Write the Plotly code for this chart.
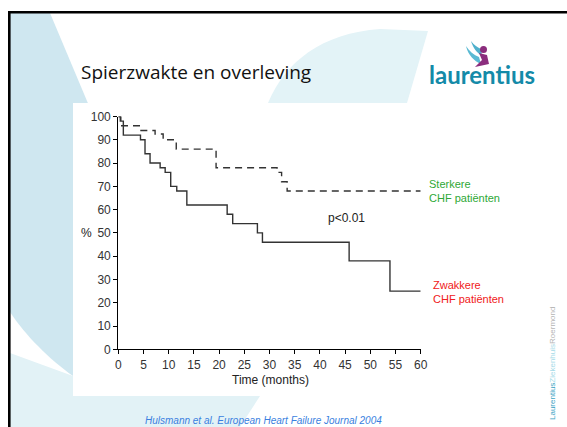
import plotly.graph_objects as go

W, H = 567, 427

# Kaplan-Meier style survival curves (months, % surviving)
months_strong = [0, 0.5, 4.5, 7.3, 8.9, 11.5, 19.4, 31.5, 32.4, 33.5, 60]
surv_strong = [100, 96, 94, 92.5, 90, 86, 78, 76, 72, 68, 68]

months_weak = [0, 0.4, 1.0, 4.4, 5.3, 6.3, 8.3, 9.3, 10.4, 11.6, 13.6, 21.6, 22.7, 27.6, 28.6, 45.8, 53.9, 60]
surv_weak = [100, 98, 92, 90, 84, 80, 78, 76, 70, 68, 62, 58, 54, 50, 46, 38, 25, 25]

x_ticks = list(range(0, 61, 5))
y_ticks = list(range(0, 101, 10))

label_strong = "Sterkere<br>CHF patiënten"
label_weak = "Zwakkere<br>CHF patiënten"
p_value_text = "p<0.01"
p_value_pos = (45.2, 56.5)

slide_title = "Spierzwakte en overleving"
logo_text = "laurentius"
citation = "Hulsmann et al. European Heart Failure Journal 2004"

FONT = "Liberation Sans, Arial, sans-serif"


def px(x):
    return x / W


def py(y):
    return 1 - y / H


def path(points):
    """Build a closed SVG path in paper units from pixel points (tuples of 3 points = cubic)."""
    parts = []
    for i, p in enumerate(points):
        if isinstance(p[0], tuple):
            (c1x, c1y), (c2x, c2y), (ex, ey) = p
            parts.append(f"C {px(c1x):.5f},{py(c1y):.5f} {px(c2x):.5f},{py(c2y):.5f} {px(ex):.5f},{py(ey):.5f}")
        else:
            cmd = "M" if i == 0 else "L"
            parts.append(f"{cmd} {px(p[0]):.5f},{py(p[1]):.5f}")
    return " ".join(parts) + " Z"


shapes = []
DARK = "#cfe7f0"
LIGHT = "#e2f2f6"

# left slide swoosh
shapes.append(dict(type="path", xref="paper", yref="paper", layer="below", line_width=0,
                   fillcolor=DARK,
                   path=path([(10, 13), (50, 13), (95, 120), (100, 380), (73, 376),
                              ((50, 360), (25, 335), (10, 312))])))
# lower light band
shapes.append(dict(type="path", xref="paper", yref="paper", layer="below", line_width=0,
                   fillcolor=LIGHT,
                   path=path([(10, 353), (73, 376), (100, 396), (260, 396), (240, 427), (10, 427)])))
# big light arc at the top
shapes.append(dict(type="path", xref="paper", yref="paper", layer="below", line_width=0,
                   fillcolor="#e3f3f7",
                   path=path([(268, 103), ((285, 62), (322, 33), (380, 29)), (428, 31), (407, 103)])))
# white panel behind the chart
shapes.append(dict(type="rect", xref="paper", yref="paper", layer="below", line_width=0,
                   fillcolor="white", x0=px(73), x1=px(440), y0=py(396), y1=py(103)))
# slide frame lines
shapes.append(dict(type="line", xref="paper", yref="paper", x0=px(8), x1=px(567), y0=py(12.2), y1=py(12.2),
                   line=dict(color="black", width=2.6)))
shapes.append(dict(type="line", xref="paper", yref="paper", x0=px(9.3), x1=px(9.3), y0=py(11), y1=py(427),
                   line=dict(color="black", width=2.6)))
# logo emblem: wing and figure
shapes.append(dict(type="path", xref="paper", yref="paper", line_width=0, fillcolor="#5bbad3",
                   path=path([(466, 46), ((468, 55), (474, 61), (481, 64)), (479, 57), ((474, 55), (469, 51), (466, 46))])))
shapes.append(dict(type="path", xref="paper", yref="paper", line_width=0, fillcolor="#4fb0cc",
                   path=path([(471, 41), ((473, 48), (477, 53), (482, 56)), (481, 49), ((477, 47), (474, 45), (471, 41))])))
shapes.append(dict(type="path", xref="paper", yref="paper", line_width=0, fillcolor="#8b2d7d",
                   path=path([(479, 53), (487, 55), (489, 64), (475, 67), (482, 60)])))
shapes.append(dict(type="circle", xref="paper", yref="paper", line_width=0, fillcolor="#8b2d7d",
                   x0=px(480), x1=px(487), y0=py(53), y1=py(46)))

fig = go.Figure()
fig.add_trace(go.Scatter(x=months_strong, y=surv_strong, mode="lines", cliponaxis=False,
                         line=dict(shape="hv", color="#333333", width=1.4, dash="7px,5px"),
                         showlegend=False, hoverinfo="skip"))
fig.add_trace(go.Scatter(x=months_weak, y=surv_weak, mode="lines", cliponaxis=False,
                         line=dict(shape="hv", color="#333333", width=1.4),
                         showlegend=False, hoverinfo="skip"))


def note(text, x, y, size, color, family=FONT, xanchor="center", **kw):
    return dict(text=text, x=px(x), y=py(y), xref="paper", yref="paper", showarrow=False,
                xanchor=xanchor, yanchor="middle", align="left",
                font=dict(family=family, size=size, color=color), **kw)


annotations = [
    dict(text=p_value_text, x=p_value_pos[0], y=p_value_pos[1], xref="x", yref="y", showarrow=False,
         xanchor="center", yanchor="middle", font=dict(family=FONT, size=12, color="#222")),
    note("Time (months)", 270, 380, 12, "#222"),
    note("%", 86, 233, 12, "#222"),
    note(label_strong, 427, 191, 11, "#2ea836", xanchor="left"),
    note(label_weak, 431, 291.5, 11, "#f02020", xanchor="left"),
    note(slide_title, 79, 72, 19, "#111", family="Open Sans, sans-serif", xanchor="left"),
    note(f"<b>{logo_text}</b>", 427, 75, 24, "#148aa8", family="Lato, sans-serif", xanchor="left"),
    note(f"<i>{citation}</i>", 143, 420.5, 10, "#3a7fe0", xanchor="left"),
    note('<span style="color:#3aa3c3">Laurentius</span><span style="color:#a6dbe8">Ziekenhuis</span>'
         '<span style="color:#b5b5b5">Roermond</span>', 552, 364, 8, "#b5b5b5", textangle=-90),
]

axis_common = dict(showgrid=False, zeroline=False, showline=True, linecolor="black", linewidth=1.3,
                   ticks="outside", ticklen=4, tickwidth=1.2, tickcolor="black", automargin=False,
                   tickfont=dict(family=FONT, size=12, color="#333"), fixedrange=True)

fig.update_layout(
    width=W, height=H, margin=dict(l=0, r=0, t=0, b=0, pad=0, autoexpand=False),
    paper_bgcolor="white", plot_bgcolor="rgba(0,0,0,0)",
    xaxis=dict(domain=[px(118.3), px(420.7)], range=[0, 60], tickvals=x_ticks, **axis_common),
    yaxis=dict(domain=[py(349.3), py(116.5)], range=[0, 100], tickvals=y_ticks, **axis_common),
    shapes=shapes, annotations=annotations, showlegend=False,
)

fig.write_html("out.html", config={"displayModeBar": False},
               post_script="document.body.style.margin='0';document.body.style.overflow='hidden';")
